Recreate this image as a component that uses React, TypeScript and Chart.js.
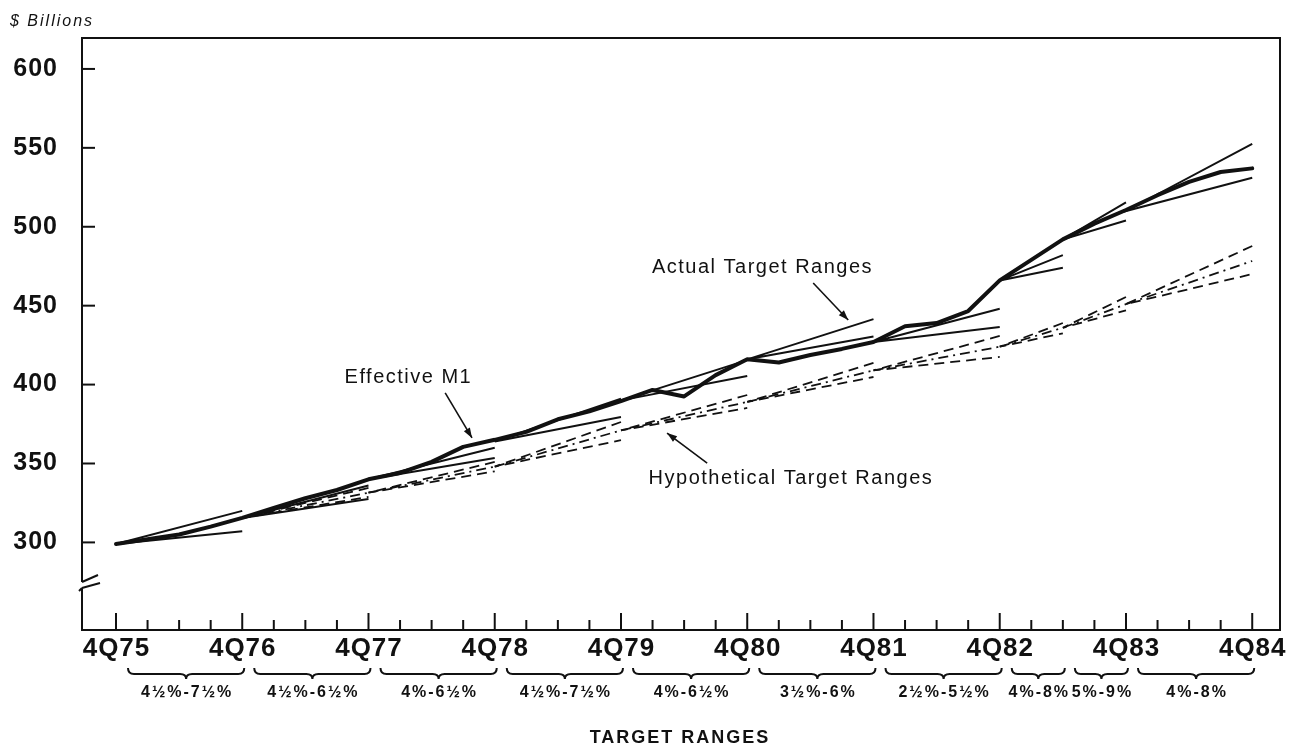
import React, { useEffect, useRef } from "react";
import { Chart, registerables } from "chart.js";

Chart.register(...registerables);

// ---------------- DATA ----------------
const yearLabels = ["4Q75", "4Q76", "4Q77", "4Q78", "4Q79", "4Q80", "4Q81", "4Q82", "4Q83", "4Q84"];
const yearTickQuarters = [0, 4, 8, 12, 16, 20, 24, 28, 32, 36];
const yTickValues = [300, 350, 400, 450, 500, 550, 600];

// Effective M1, quarterly from 4Q75 (index 0) to 4Q84 (index 36), $ billions
const effectiveM1 = [
  299, 302, 305, 310, 315.5, 321.8, 328, 333.2, 340, 344, 351, 360.5, 365,
  370, 378, 383, 389.5, 396.6, 392.5, 406, 416, 414, 418.7, 422.6, 427,
  437, 439, 446.6, 466, 479, 492, 502, 510.6, 520, 528.4, 534.7, 537,
];

// Actual target ranges (cones)
const coneStartQ = [0, 4, 8, 12, 16, 20, 24, 28, 30, 32];
const coneEndQ = [4, 8, 12, 16, 20, 24, 28, 30, 32, 36];
const actualBase = [299, 315.5, 340, 364, 390, 416, 427, 466, 492, 510];
const actualUpper = [320, 336, 360, 391, 415.5, 441.5, 448, 482, 515.5, 552.5];
const actualLower = [307, 327.5, 353.5, 379.5, 405.5, 430.5, 436.5, 474, 504, 531];
const targetRangeLabels = [
  "4½%-7½%", "4½%-6½%", "4%-6½%", "4½%-7½%", "4%-6½%",
  "3½%-6%", "2½%-5½%", "4%-8%", "5%-9%", "4%-8%",
];

// Hypothetical target ranges (dashed cones)
const hypStartQ = [4, 8, 12, 16, 20, 24, 28, 30, 32];
const hypEndQ = [8, 12, 16, 20, 24, 28, 30, 32, 36];
const hypBase = [315.5, 331.5, 348, 371, 389, 409, 424, 436, 451];
const hypUpper = [334.5, 351, 376.3, 393.4, 413.7, 430.8, 439, 455.5, 487.8];
const hypMid = [331.5, 348, 371, 389, 409, 424, 436, 451, 478.3];
const hypLower = [328.8, 345, 364.8, 385.2, 404.8, 417.5, 432.5, 447, 470];

// Annotations (positioned in data space: quarter index, $ billions)
const annotations = [
  { text: "Effective M1", x: 9.24, y: 404.8, from: [10.43, 394.7], to: [11.28, 366.2] },
  { text: "Actual Target Ranges", x: 20.46, y: 474.5, from: [22.09, 464.4], to: [23.2, 440.9] },
  { text: "Hypothetical Target Ranges", x: 21.36, y: 340.8, from: [18.73, 350.3], to: [17.46, 369.3] },
];
const axisBreakValue = 273;

// ---------------- STYLE ----------------
const INK = "#111111";
const FONT = "'Liberation Sans', Arial, Helvetica, sans-serif";

function setSpacing(ctx: any, px: number) {
  try {
    ctx.letterSpacing = px + "px";
  } catch (e) {}
}

function drawText(ctx: any, text: string, x: number, y: number, font: string, spacing: number, align: CanvasTextAlign) {
  ctx.font = font;
  setSpacing(ctx, spacing);
  ctx.textAlign = align;
  ctx.textBaseline = "middle";
  const dx = align === "center" ? spacing / 2 : align === "right" ? spacing : 0;
  ctx.fillText(text, x + dx, y);
  setSpacing(ctx, 0);
}

function line(ctx: any, x0: number, y0: number, x1: number, y1: number) {
  ctx.beginPath();
  ctx.moveTo(x0, y0);
  ctx.lineTo(x1, y1);
  ctx.stroke();
}

function arrow(ctx: any, x0: number, y0: number, x1: number, y1: number) {
  ctx.lineWidth = 1.6;
  line(ctx, x0, y0, x1, y1);
  const ang = Math.atan2(y1 - y0, x1 - x0);
  const L = 10, W = 3.5;
  ctx.beginPath();
  ctx.moveTo(x1, y1);
  ctx.lineTo(x1 - L * Math.cos(ang) + W * Math.sin(ang), y1 - L * Math.sin(ang) - W * Math.cos(ang));
  ctx.lineTo(x1 - L * Math.cos(ang) - W * Math.sin(ang), y1 - L * Math.sin(ang) + W * Math.cos(ang));
  ctx.closePath();
  ctx.fill();
}

function brace(ctx: any, x0: number, x1: number, yTop: number) {
  const mid = (x0 + x1) / 2;
  const yMid = yTop + 6;
  const yTip = yTop + 11;
  const r = 6;
  ctx.beginPath();
  ctx.moveTo(x0, yTop);
  ctx.quadraticCurveTo(x0, yMid, x0 + r, yMid);
  ctx.lineTo(mid - r, yMid);
  ctx.quadraticCurveTo(mid, yMid, mid, yTip);
  ctx.quadraticCurveTo(mid, yMid, mid + r, yMid);
  ctx.lineTo(x1 - r, yMid);
  ctx.quadraticCurveTo(x1, yMid, x1, yTop);
  ctx.stroke();
}

const decorPlugin = {
  id: "decor",
  afterDraw(chart: any) {
    const ctx = chart.ctx;
    const { left, top, right, bottom } = chart.chartArea;
    const xs = chart.scales.x;
    const ys = chart.scales.y;
    ctx.save();
    ctx.strokeStyle = INK;
    ctx.fillStyle = INK;
    ctx.lineCap = "butt";

    // frame
    ctx.lineWidth = 2;
    ctx.strokeRect(left, top, right - left, bottom - top);

    // y ticks (inward) + labels
    yTickValues.forEach((v) => {
      const y = ys.getPixelForValue(v);
      ctx.lineWidth = 2;
      line(ctx, left, y, left + 13, y);
      drawText(ctx, String(v), left - 25, y, `bold 25px ${FONT}`, 1, "right");
    });

    // x ticks (quarters) + year labels
    const lastQ = yearTickQuarters[yearTickQuarters.length - 1];
    for (let q = 0; q <= lastQ; q++) {
      const x = xs.getPixelForValue(q);
      const major = yearTickQuarters.indexOf(q) >= 0;
      ctx.lineWidth = 2;
      line(ctx, x, bottom, x, bottom - (major ? 17 : 10));
    }
    yearTickQuarters.forEach((q, i) => {
      const x = xs.getPixelForValue(q);
      drawText(ctx, yearLabels[i], x, bottom + 19, `bold 26px ${FONT}`, 1, "center");
    });

    // axis break
    const yb = ys.getPixelForValue(axisBreakValue);
    ctx.fillStyle = "#ffffff";
    ctx.fillRect(left - 2, yb - 3, 4, 6);
    ctx.fillStyle = INK;
    ctx.lineWidth = 2;
    ctx.beginPath();
    ctx.moveTo(left, yb - 3);
    ctx.lineTo(left + 16, yb - 10);
    ctx.stroke();
    ctx.beginPath();
    ctx.moveTo(left, yb + 3);
    ctx.lineTo(left + 18, yb - 2);
    ctx.stroke();
    ctx.beginPath();
    ctx.moveTo(left - 3, yb + 6);
    ctx.lineTo(left, yb + 3);
    ctx.stroke();

    // braces + target range labels
    coneStartQ.forEach((s, i) => {
      const x0 = xs.getPixelForValue(s) + 12;
      const x1 = xs.getPixelForValue(coneEndQ[i]) + 2;
      ctx.lineWidth = 2;
      brace(ctx, x0, x1, bottom + 38);
      drawText(ctx, targetRangeLabels[i], (x0 + x1) / 2, bottom + 63, `bold 16px ${FONT}`, 2, "center");
    });

    drawText(ctx, "TARGET RANGES", (left + right) / 2 - 2, bottom + 108, `bold 18px ${FONT}`, 2, "center");

    // unit label
    drawText(ctx, "$ Billions", left - 72, top - 16, `italic 16px ${FONT}`, 2, "left");

    // annotations
    annotations.forEach((a) => {
      drawText(ctx, a.text, xs.getPixelForValue(a.x), ys.getPixelForValue(a.y), `20px ${FONT}`, 1.5, "center");
      arrow(
        ctx,
        xs.getPixelForValue(a.from[0]), ys.getPixelForValue(a.from[1]),
        xs.getPixelForValue(a.to[0]), ys.getPixelForValue(a.to[1])
      );
    });

    ctx.restore();
  },
};

function buildCone(start: number[], end: number[], base: number[], up: number[], low: number[]) {
  const pts: any[] = [];
  start.forEach((s, i) => {
    pts.push({ x: end[i], y: up[i] });
    pts.push({ x: s, y: base[i] });
    pts.push({ x: end[i], y: low[i] });
    pts.push({ x: end[i], y: null });
  });
  return pts;
}

function buildSegments(start: number[], end: number[], base: number[], tip: number[]) {
  const pts: any[] = [];
  start.forEach((s, i) => {
    pts.push({ x: s, y: base[i] });
    pts.push({ x: end[i], y: tip[i] });
    pts.push({ x: end[i], y: null });
  });
  return pts;
}

export default function App() {
  const ref = useRef<HTMLCanvasElement | null>(null);

  useEffect(() => {
    if (!ref.current) return;
    const chart = new Chart(ref.current, {
      type: "line",
      data: {
        datasets: [
          {
            label: "Effective M1",
            data: effectiveM1.map((v, i) => ({ x: i, y: v })),
            borderColor: INK,
            borderWidth: 4,
            pointRadius: 0,
            borderJoinStyle: "round",
            borderCapStyle: "round",
            tension: 0,
          },
          {
            label: "Actual Target Ranges",
            data: buildCone(coneStartQ, coneEndQ, actualBase, actualUpper, actualLower),
            borderColor: INK,
            borderWidth: 2,
            pointRadius: 0,
            spanGaps: false,
            tension: 0,
          },
          {
            label: "Hypothetical Target Ranges",
            data: buildCone(hypStartQ, hypEndQ, hypBase, hypUpper, hypLower),
            borderColor: INK,
            borderWidth: 1.8,
            borderDash: [10, 6],
            pointRadius: 0,
            spanGaps: false,
            tension: 0,
          },
          {
            label: "Hypothetical path",
            data: buildSegments(hypStartQ, hypEndQ, hypBase, hypMid),
            borderColor: INK,
            borderWidth: 1.8,
            borderDash: [10, 5, 2, 5],
            pointRadius: 0,
            spanGaps: false,
            tension: 0,
          },
        ],
      },
      options: {
        animation: false,
        responsive: false,
        devicePixelRatio: 1,
        parsing: true,
        layout: { padding: { left: 82, top: 38, right: 11, bottom: 116 } },
        plugins: { legend: { display: false }, tooltip: { enabled: false } },
        events: [],
        scales: {
          x: { type: "linear", min: -1.077, max: 36.88, display: false },
          y: { type: "linear", min: 244.5, max: 619.6, display: false },
        },
      },
      plugins: [decorPlugin],
    } as any);
    return () => chart.destroy();
  }, []);

  return (
    <div style={{ position: "fixed", left: 0, top: 0, width: 1291, height: 746, background: "#fff" }}>
      <canvas ref={ref} width={1291} height={746} style={{ display: "block" }} />
    </div>
  );
}
